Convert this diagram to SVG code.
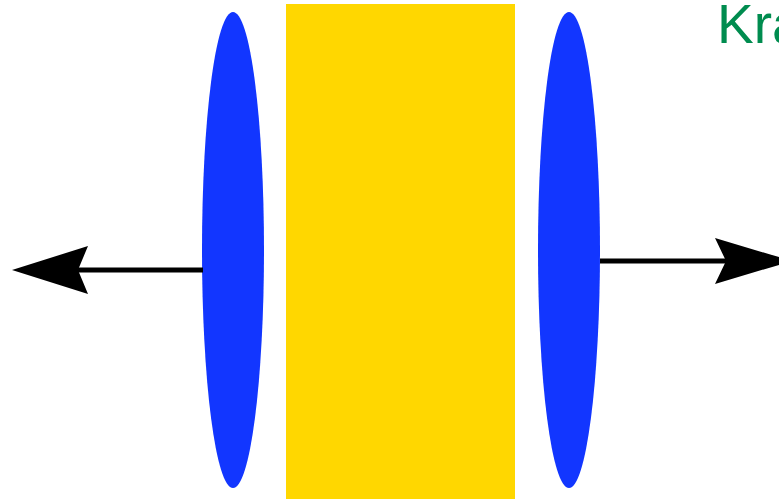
<svg xmlns="http://www.w3.org/2000/svg" width="779" height="500" viewBox="0 0 779 500">
<style>
.lens{fill:#1236ff}
.conn{stroke:#000;stroke-width:5;fill:none}
.head{fill:#000}
.lbl{font-family:"Liberation Sans",Arial,sans-serif;font-size:55px;fill:#008c4f}
</style>
<rect width="779" height="500" fill="#fff"/>
<g id="medium"><rect x="286" y="4" width="229" height="495" fill="#ffd700"/></g>
<g id="lens-left"><ellipse class="lens" cx="233" cy="250" rx="31" ry="238"/></g>
<g id="lens-right"><ellipse class="lens" cx="569" cy="250" rx="31" ry="238"/></g>
<g id="connectors">
<line class="conn" x1="203" y1="270" x2="75" y2="270"/>
<path class="head" d="M12,270 L88,246 L78,270 L88,294 Z"/>
<line class="conn" x1="600" y1="261" x2="730" y2="261"/>
<path class="head" d="M792,261 L715,238 L726,261 L715,284 Z"/>
</g>
<g id="label"><text class="lbl" x="717" y="43">Kra</text></g>
</svg>
